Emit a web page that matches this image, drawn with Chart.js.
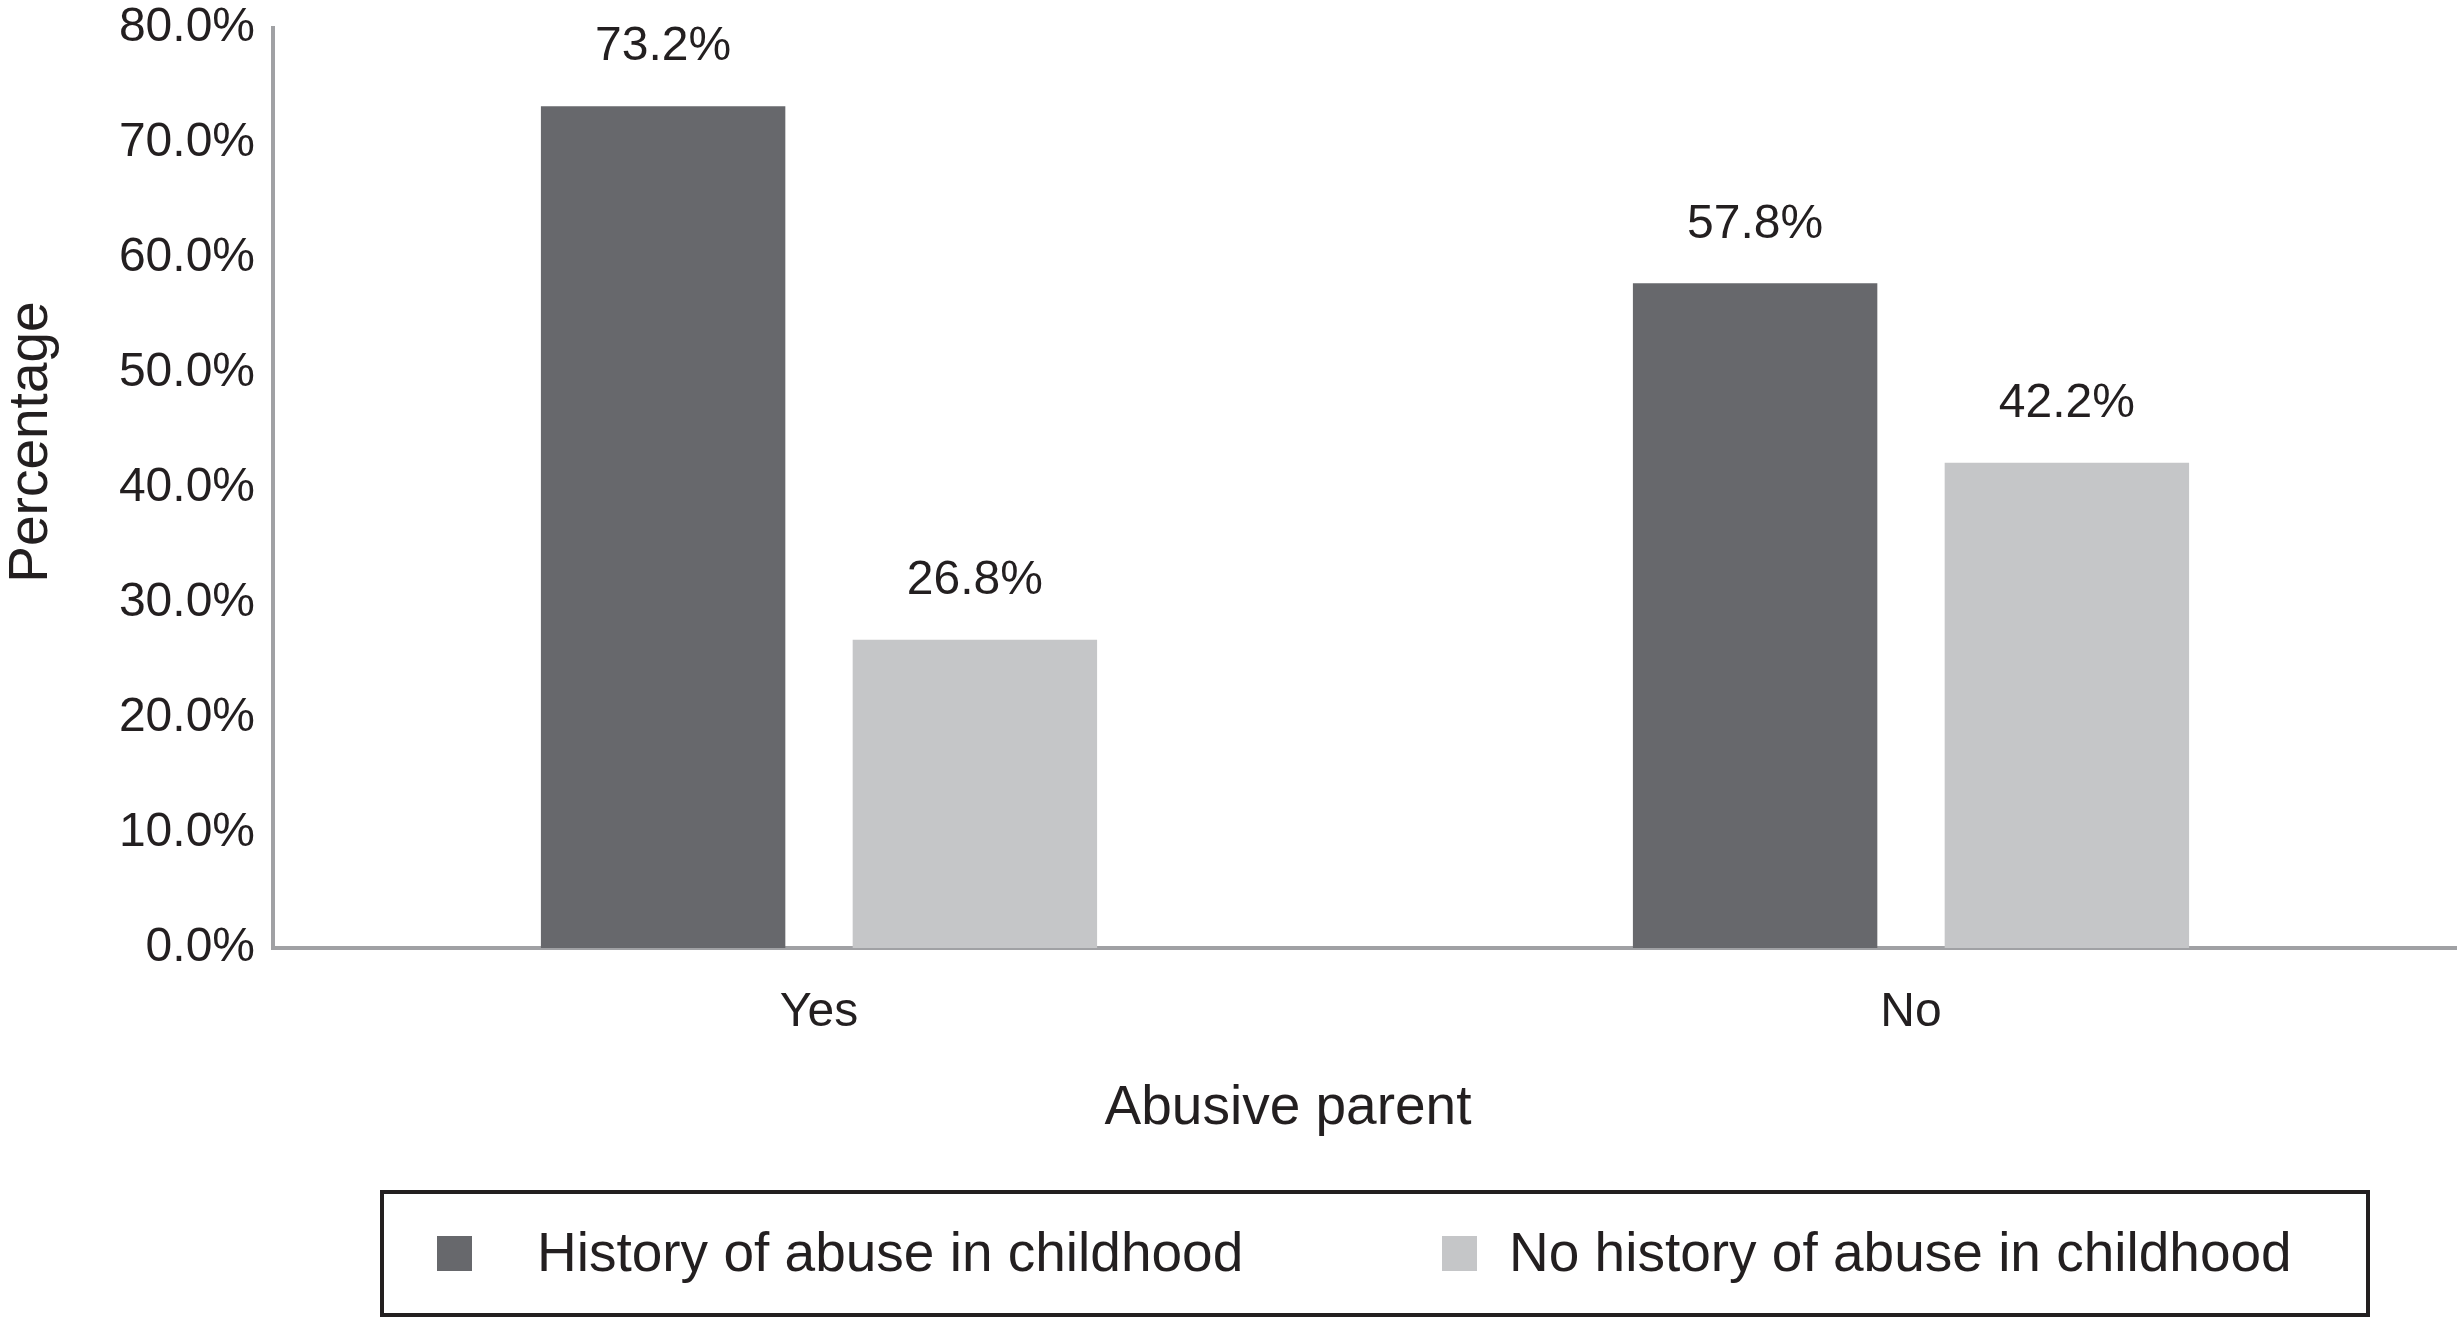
<!DOCTYPE html>
<html>
<head>
<meta charset="utf-8">
<title>Abusive parent</title>
<script src="https://cdn.jsdelivr.net/npm/chart.js@4/dist/chart.umd.min.js"></script>
<style>
  html, body { margin: 0; padding: 0; background: #fff; }
  canvas { display: block; }
</style>
</head>
<body>
<canvas id="chart" width="2457" height="1318"></canvas>
<script>
// data
const categories = ['Yes', 'No'];
const seriesNames = ['History of abuse in childhood', 'No history of abuse in childhood'];
const historyValues = [73.2, 57.8];
const noHistoryValues = [26.8, 42.2];
const yTicks = [0, 10, 20, 30, 40, 50, 60, 70, 80];
const xTitle = 'Abusive parent';
const yTitle = 'Percentage';

const FONT = "'Liberation Sans', Arial, Helvetica, sans-serif";
const INK = '#231f20';
const AXIS = '#a0a1a4';
const DARK = '#67686c';
const LIGHT = '#c5c6c8';

const valueLabels = {
    id: 'valueLabels',
    afterDatasetsDraw(chart) {
        const ctx = chart.ctx;
        ctx.save();
        ctx.font = '48px ' + FONT;
        ctx.fillStyle = INK;
        ctx.textAlign = 'center';
        ctx.textBaseline = 'middle';
        chart.data.datasets.forEach((ds, i) => {
            chart.getDatasetMeta(i).data.forEach((bar, j) => {
                ctx.fillText(ds.data[j].toFixed(1) + '%', bar.x, bar.y - 59);
            });
        });
        ctx.restore();
    }
};

// axis titles and the boxed legend sit a little off the chart's own centring
const titlesAndLegend = {
    id: 'titlesAndLegend',
    afterDraw(chart) {
        const ctx = chart.ctx;
        ctx.save();
        ctx.fillStyle = INK;
        ctx.font = '55px ' + FONT;
        ctx.textAlign = 'center';
        ctx.textBaseline = 'middle';
        ctx.fillText(xTitle, 1288, 1109);

        ctx.save();
        ctx.translate(32, 442);
        ctx.rotate(-Math.PI / 2);
        ctx.fillText(yTitle, 0, 0);
        ctx.restore();

        ctx.strokeStyle = '#231f20';
        ctx.lineWidth = 4;
        ctx.strokeRect(382, 1192, 1986, 123);
        const items = [
            { swatch: 437, text: 537 },
            { swatch: 1442, text: 1509 }
        ];
        ctx.textAlign = 'left';
        chart.data.datasets.forEach((ds, i) => {
            ctx.fillStyle = ds.backgroundColor;
            ctx.fillRect(items[i].swatch, 1236, 35, 35);
            ctx.fillStyle = INK;
            ctx.fillText(ds.label, items[i].text, 1256);
        });
        ctx.restore();
    }
};

new Chart(document.getElementById('chart'), {
    type: 'bar',
    data: {
        labels: categories,
        datasets: [
            { label: seriesNames[0], data: historyValues, backgroundColor: DARK },
            { label: seriesNames[1], data: noHistoryValues, backgroundColor: LIGHT }
        ]
    },
    options: {
        responsive: false,
        animation: false,
        devicePixelRatio: 1,
        categoryPercentage: 0.571,
        barPercentage: 0.784,
        layout: { padding: { top: 28, right: 0, bottom: 0, left: 0 } },
        plugins: {
            legend: { display: false },
            tooltip: { enabled: false }
        },
        scales: {
            x: {
                grid: { display: false, drawTicks: false },
                border: { display: true, color: AXIS, width: 4 },
                ticks: { color: INK, font: { family: FONT, size: 48 }, padding: 36 },
                afterFit(scale) { scale.height = 370; }
            },
            y: {
                min: 0,
                max: 80,
                afterBuildTicks(scale) { scale.ticks = yTicks.map(v => ({ value: v })); },
                grid: { display: false, drawTicks: false },
                border: { display: true, color: AXIS, width: 4 },
                ticks: {
                    color: INK,
                    font: { family: FONT, size: 48 },
                    padding: 18,
                    callback: v => v.toFixed(1) + '%'
                },
                afterFit(scale) {
                    scale.width = 273;
                    scale.paddingTop = 0;
                    scale.paddingBottom = 0;
                }
            }
        }
    },
    plugins: [valueLabels, titlesAndLegend]
});
</script>
</body>
</html>
